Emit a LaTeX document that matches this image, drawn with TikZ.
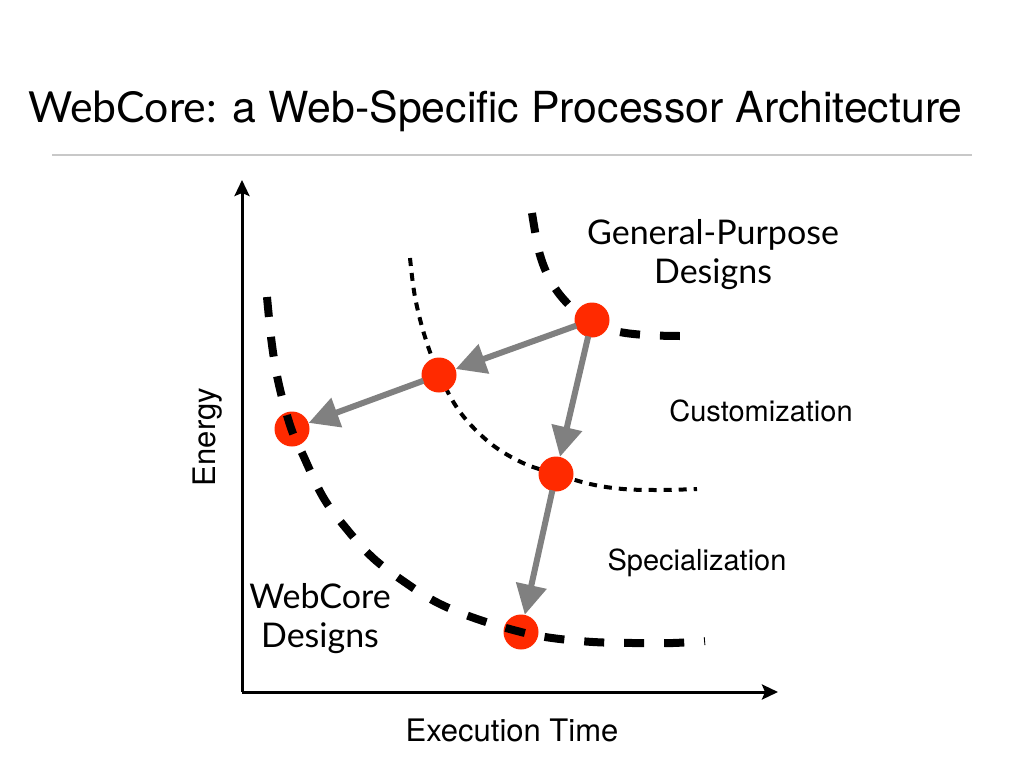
\documentclass[tikz,border=0pt]{standalone}
\usepackage{fontspec}
\setmainfont{TeX Gyre Heros}
\newfontfamily\gillfont{Lato}
\usetikzlibrary{arrows.meta}
\definecolor{dotred}{HTML}{FF2A00}
\definecolor{arrowgray}{HTML}{808080}
\definecolor{rulegray}{HTML}{C8C8C8}
\tikzset{
  design/.style={circle, fill=dotred, minimum size=35pt, inner sep=0pt},
  move/.style={draw=arrowgray, line width=6pt, -{Triangle[length=30pt,width=30pt]}, shorten <=-1pt},
  frontier/.style={line width=8pt, dash pattern=on 20pt off 20pt},
  midfrontier/.style={line width=4pt, dash pattern=on 8pt off 7pt},
  axis/.style={line width=3pt, -{Stealth[length=16pt,width=15pt,inset=3pt]}},
  bodytext/.style={font=\fontsize{29}{34}\selectfont},
  axistext/.style={font=\fontsize{31}{34}\selectfont},
  designlabel/.style={font=\gillfont\fontsize{34}{39}\selectfont, align=center},
}
\begin{document}
\begin{tikzpicture}[x=1pt, y=-1pt]
  \useasboundingbox (0,0) rectangle (1024,768);
  \fill[white] (0,0) rectangle (1024,768);

  % heading and rule
  \node[anchor=base west, inner sep=0pt, font=\fontsize{42.8}{50}\selectfont] (title) at (28,122)
    {{\gillfont WebCore:} a Web-Specific Processor Architecture};
  \coordinate (ruleL) at (52,155);
  \coordinate (ruleR) at (972,155);
  \draw[rulegray, line width=1.5pt] (ruleL) -- (ruleR);

  % axes
  \coordinate (origin) at (242,692);
  \coordinate (ytop) at (242,180);
  \coordinate (xend) at (778,692);
  \draw[axis] (origin) -- (ytop);
  \draw[axis] (origin) -- (xend);
  \node[axistext, rotate=90] (energy) at (208,437) {Energy};
  \node[axistext] (time) at (512,730) {Execution Time};

  % intermediate frontier (drawn beneath its design points)
  \draw[midfrontier] plot[smooth, tension=0.6] coordinates
    {(410,258) (415,297) (425,337) (439,374) (460,412) (490,443) (523,463) (556,474) (590,484) (623,489) (660,490) (697,489)};

  % general-purpose frontier
  \draw[frontier] plot[smooth, tension=0.6] coordinates
    {(532,213) (540,255) (553,285) (572,308) (592,322) (615,331) (645,335) (680,336)};

  % design points
  \node[design] (gp) at (592,320) {};
  \node[design] (cust1) at (439,375) {};
  \node[design] (web1) at (292,429) {};
  \node[design] (cust2) at (556,474) {};
  \node[design] (web2) at (521,632) {};

  % WebCore frontier (drawn over its design points)
  \draw[frontier] plot[smooth, tension=0.6] coordinates
    {(267,297) (272,345) (279,385) (291,428) (303,455) (323,497) (345,527) (373,558) (406,583) (438,603) (477,619) (521,632) (552,638) (593,642) (633,643) (673,643) (705,641)};

  % transitions
  \draw[move] (gp) -- (cust1);
  \draw[move] (cust1) -- (web1);
  \draw[move] (gp) -- (cust2);
  \draw[move] (cust2) -- (web2);

  % labels
  \node[designlabel] (gplabel) at (713,255) {General-Purpose\\Designs};
  \node[designlabel] (weblabel) at (320,619) {WebCore\\Designs};
  \node[bodytext] (custlabel) at (761,411) {Customization};
  \node[bodytext] (speclabel) at (697,563) {Specialization};
\end{tikzpicture}
\end{document}
